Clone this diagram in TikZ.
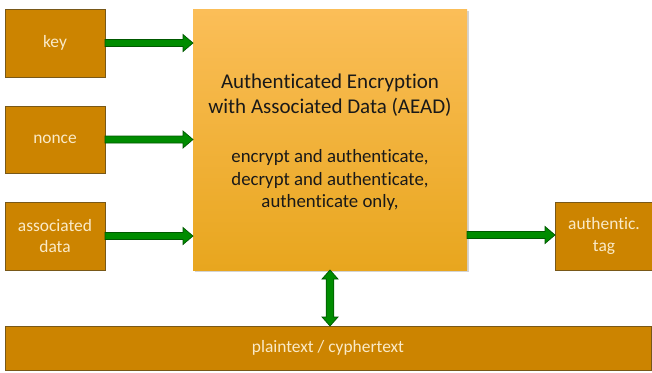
\documentclass[tikz,border=0pt]{standalone}
\usepackage{fontspec}
\setmainfont[Ligatures=NoCommon]{Carlito}
\usetikzlibrary{calc,shadows}
\definecolor{boxfill}{RGB}{204,132,0}
\definecolor{boxline}{RGB}{120,88,24}
\definecolor{boxtext}{RGB}{250,234,200}
\definecolor{aeadtop}{RGB}{251,190,88}
\definecolor{aeadbot}{RGB}{232,166,30}
\definecolor{arrfill}{RGB}{0,140,0}
\definecolor{arrline}{RGB}{0,88,0}
\definecolor{darktext}{RGB}{25,25,25}
\tikzset{
  inbox/.style={draw=boxline, line width=0.9pt, fill=boxfill, text=boxtext,
    inner sep=0pt, outer sep=0pt, align=center, anchor=north west,
    font=\fontsize{17.4}{21.5}\selectfont},
  aeadbox/.style={inner sep=0pt, outer sep=0pt, anchor=north west,
    top color=aeadtop, bottom color=aeadbot,
    drop shadow={shadow xshift=2pt, shadow yshift=-2pt, opacity=0.35}},
  titletext/.style={align=center, text=darktext, font=\fontsize{21}{25}\selectfont},
  opstext/.style={align=center, text=darktext, font=\fontsize{18.8}{22.5}\selectfont},
  fatright/.style={fill=arrfill, draw=arrline, line width=0.7pt, line join=miter,
    to path={let \p1=(\tikztostart), \p2=(\tikztotarget) in
      (\x1,\y1+3.5pt) -- (\x2-10pt,\y1+3.5pt) -- (\x2-10pt,\y1+8.5pt) -- (\x2,\y1)
      -- (\x2-10pt,\y1-8.5pt) -- (\x2-10pt,\y1-3.5pt) -- (\x1,\y1-3.5pt) -- cycle}},
  fatupdown/.style={fill=arrfill, draw=arrline, line width=0.7pt, line join=miter,
    to path={let \p1=(\tikztostart), \p2=(\tikztotarget) in
      (\x1,\y1) -- (\x1+8pt,\y1-9pt) -- (\x1+3.8pt,\y1-9pt) -- (\x1+3.8pt,\y2+9pt)
      -- (\x1+8pt,\y2+9pt) -- (\x1,\y2) -- (\x1-8pt,\y2+9pt) -- (\x1-3.8pt,\y2+9pt)
      -- (\x1-3.8pt,\y1-9pt) -- (\x1-8pt,\y1-9pt) -- cycle}}
}
\begin{document}
\begin{tikzpicture}[x=1pt,y=-1pt]
\useasboundingbox (0,0) rectangle (652,372);
% input boxes
\node[inbox, minimum width=100pt, minimum height=68pt] (key) at (5,9) {key};
\node[inbox, minimum width=100pt, minimum height=67pt] (nonce) at (5,106) {nonce};
\node[inbox, minimum width=100pt, minimum height=68pt] (ad) at (5,202) {associated\\data};
% AEAD box
\node[aeadbox, minimum width=274pt, minimum height=261pt] (aead) at (193,9) {};
\node[titletext] (title) at (330,95) {Authenticated Encryption\\with Associated Data (AEAD)};
\node[opstext] (ops) at (330,180) {encrypt and authenticate,\\decrypt and authenticate,\\authenticate only,};
% output
\node[inbox, minimum width=98pt, minimum height=68pt] (tag) at (555,202) {authentic.\\tag};
% bottom bar
\node[inbox, minimum width=646pt, minimum height=44pt] (bar) at (5,326) {plaintext / cyphertext};
% arrows
\path[fatright] (key.east) to (aead.west |- key.east);
\path[fatright] (nonce.east) to (aead.west |- nonce.east);
\path[fatright] (ad.east) to ($(aead.west |- ad.east)+(0,-1)$);
\path[fatright] ($(aead.east |- tag.west)+(0,-1)$) to (tag.west);
\coordinate (vtop) at (aead.south -| 330,0);
\coordinate (vbot) at (bar.north -| 330,0);
\path[fatupdown] (vtop) to (vbot);
\end{tikzpicture}
\end{document}
